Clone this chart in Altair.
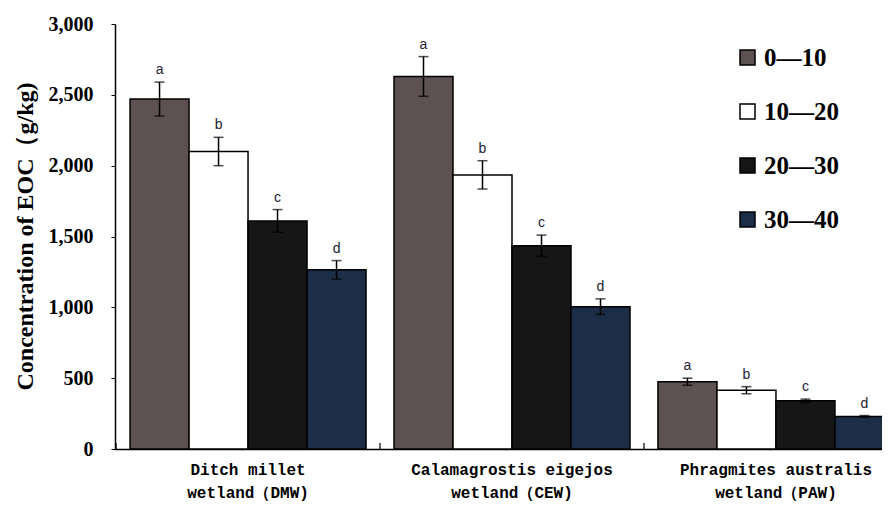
import altair as alt
import pandas as pd

groups = ["DMW", "CEW", "PAW"]
group_line1 = ["Ditch millet", "Calamagrostis eigejos", "Phragmites australis"]
group_line2 = ["wetland（DMW)", "wetland（CEW)", "wetland（PAW)"]
depths = ["0—10", "10—20", "20—30", "30—40"]
letters = ["a", "b", "c", "d"]
values_dmw = [2470, 2100, 1610, 1265]
values_cew = [2630, 1935, 1435, 1005]
values_paw = [475, 415, 340, 230]
err_dmw = [120, 100, 80, 65]
err_cew = [140, 100, 75, 55]
err_paw = [25, 25, 12, 6]
colors = ["#5e5151", "#ffffff", "#161616", "#1c2d47"]

rows = []
for g, vals, errs in zip(groups, [values_dmw, values_cew, values_paw], [err_dmw, err_cew, err_paw]):
    for d, v, e, l in zip(depths, vals, errs, letters):
        rows.append({"group": g, "depth": d, "value": v, "lo": v - e, "hi": v + e, "letter": l})
df = pd.DataFrame(rows)
gdf = pd.DataFrame({"group": groups, "l1": group_line1, "l2": group_line2})

PLOT_W, PLOT_H = 767, 425
xscale = alt.Scale(range=[0, 794], paddingInner=0.106, paddingOuter=0.057)
x = alt.X("group:N", sort=groups, scale=xscale,
          axis=alt.Axis(labels=False, ticks=False, title=None, domainColor="black", domainWidth=1.5))
xo = alt.XOffset("depth:N", sort=depths, scale=alt.Scale(paddingInner=0, paddingOuter=0))
yenc = alt.Y("value:Q", scale=alt.Scale(domain=[0, 3000]),
             axis=alt.Axis(values=[0, 500, 1000, 1500, 2000, 2500, 3000], format=",.0f",
                           title="Concentration of EOC（g/kg)", grid=False,
                           domainColor="black", domainWidth=1.5, tickColor="black", tickSize=4,
                           labelFont="Liberation Serif", labelFontWeight="bold", labelFontSize=20,
                           labelColor="black", labelPadding=18,
                           titleFont="Liberation Serif", titleFontWeight="bold", titleFontSize=24,
                           titleColor="black", titleX=-90, titleY=212, titleAngle=270,
                           titleAlign="center", titleBaseline="middle"))

base = alt.Chart(df)
bars = base.mark_bar(stroke="black", strokeWidth=1.5, clip=True).encode(
    x=x, xOffset=xo, y=yenc,
    color=alt.Color("depth:N", sort=depths, scale=alt.Scale(domain=depths, range=colors),
                    legend=alt.Legend(title=None, orient="none", legendX=620, legendY=21,
                                      symbolType="square", symbolSize=225,
                                      symbolStrokeColor="black", symbolStrokeWidth=1.5,
                                      labelFont="Liberation Serif", labelFontWeight="bold",
                                      labelFontSize=25, labelColor="black", rowPadding=28,
                                      labelOffset=4, padding=0)),
)
err = base.mark_rule(color="black", strokeWidth=1.5, clip=True).encode(x=x, xOffset=xo, y="lo:Q", y2="hi:Q")
cap_hi = base.mark_tick(color="black", thickness=1.5, size=10, clip=True).encode(x=x, xOffset=xo, y="hi:Q")
cap_lo = base.mark_tick(color="black", thickness=1.5, size=10, clip=True).encode(x=x, xOffset=xo, y="lo:Q")
labels = base.mark_text(dy=-8, baseline="alphabetic", font="Liberation Sans", fontSize=14,
                        color="#222233", clip=True).encode(x=x, xOffset=xo, y="hi:Q", text="letter:N")

gbase = alt.Chart(gdf)
seps = gbase.mark_rule(color="black", strokeWidth=1.2, xOffset=-14).encode(
    x=alt.X("group:N", sort=groups, bandPosition=0), y=alt.value(PLOT_H), y2=alt.value(PLOT_H - 6))
t1 = gbase.mark_text(font="Liberation Mono", fontWeight="bold", fontSize=16, color="black",
                     baseline="middle").encode(x=alt.X("group:N", sort=groups), y=alt.value(PLOT_H + 21), text="l1:N")
t2 = gbase.mark_text(font="Liberation Mono", fontWeight="bold", fontSize=16, color="black",
                     baseline="middle").encode(x=alt.X("group:N", sort=groups), y=alt.value(PLOT_H + 44), text="l2:N")

chart = alt.layer(bars, err, cap_hi, cap_lo, labels, seps, t1, t2).properties(
    width=PLOT_W, height=PLOT_H,
    autosize=alt.AutoSizeParams(type="none"),
    padding={"left": 107, "top": 16, "right": 0, "bottom": 56},
).configure_view(stroke=None)

chart.save("out.html", embed_options={"renderer": "svg", "actions": False})
